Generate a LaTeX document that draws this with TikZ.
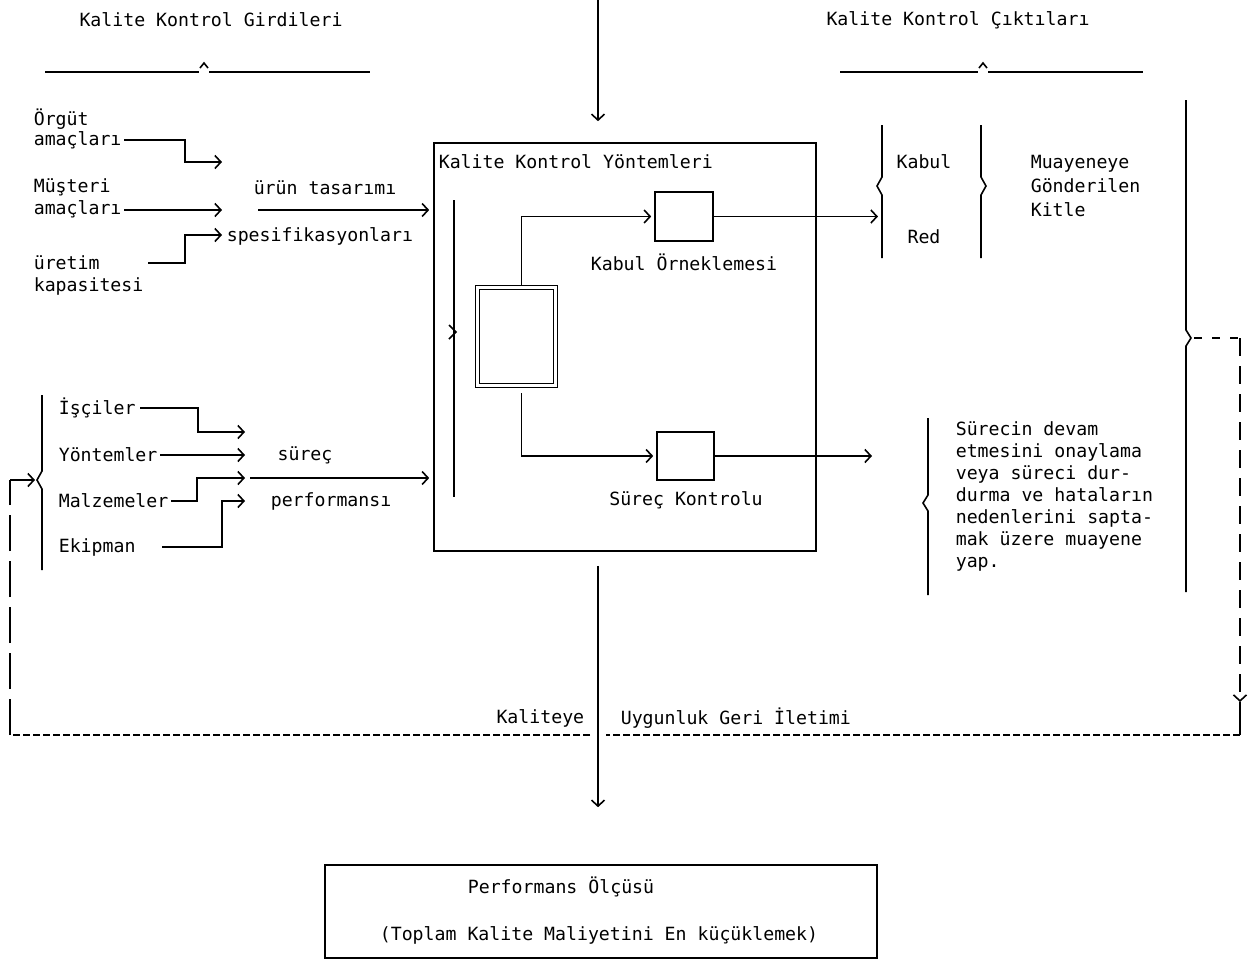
\documentclass[tikz,border=0pt]{standalone}
\usepackage{fontspec}
\usepackage{tikz}
\usetikzlibrary{positioning, arrows.meta, calc}
\newfontfamily\dotmono{DejaVu Sans Mono}

\begin{document}
\begin{tikzpicture}[x=0.5pt, y=-0.5pt, line width=0.8pt,
    txt/.style={inner sep=0pt, font=\dotmono\fontsize{9.1}{11}\selectfont},
    chev/.style={-{Straight Barb[length=3pt, width=6.5pt]}},
    box/.style={draw, inner sep=0pt},
    feedline/.style={dash pattern=on 3.5pt off 1.5pt},
    longdash/.style={dash pattern=on 9pt off 5pt}]
    \useasboundingbox (0,0) rectangle (1250,960);

    % Titles
    \node[txt] (inTitle) at (211,20) {Kalite Kontrol Girdileri};
    \node[txt] (outTitle) at (958,20) {Kalite Kontrol Çıktıları};
    \draw (45,72) -- (199,72) (209,72) -- (370,72);
    \draw (200,68) -- (204,63) -- (208,68);
    \draw (840,72) -- (978,72) (988,72) -- (1143,72);
    \draw (979,68) -- (983,63) -- (987,68);

    % Quality control methods
    \node[box, minimum width=191pt, minimum height=204pt] (kkBox) at (625,347) {};
    \node[txt, anchor=west] (kkTitle) at (438,162) {Kalite Kontrol Yöntemleri};
    \coordinate (topIn) at (598,0);
    \draw[chev] (topIn) -- ([yshift=10.5pt]kkBox.north -| topIn);

    \node[box, double, line width=0.7pt, double distance=1.2pt,
          minimum width=39pt, minimum height=49pt] (lot) at (516.5,336.5) {};
    \node[box, minimum width=29pt, minimum height=24.5pt] (kabulBox) at (684,216.5) {};
    \node[txt] (kabulLbl) at (684,262) {Kabul Örneklemesi};
    \node[box, minimum width=28.5pt, minimum height=24pt] (surecBox) at (685.5,456) {};
    \node[txt] (surecLbl) at (686,500) {Süreç Kontrolu};
    \draw[chev, shorten >=1.5pt] ([xshift=2.5pt, yshift=1pt]lot.north) |- (kabulBox.west);
    \draw[chev, shorten >=1.5pt] ([xshift=2.5pt, yshift=-3.5pt]lot.south) |- (surecBox.west);

    \coordinate (inTop) at (454,200);
    \coordinate (inBot) at (454,497);
    \draw (inTop) -- (inBot);
    \draw (449,325) -- (456,332) -- (449,339);

    % Inputs: product design
    \node[txt, anchor=west] (orgut) at (33,119) {Örgüt};
    \node[txt, anchor=west] (orgutAm) at (33,140) {amaçları};
    \node[txt, anchor=west] (musteri) at (33,187) {Müşteri};
    \node[txt, anchor=west] (musteriAm) at (33,209) {amaçları};
    \node[txt, anchor=west] (uretim) at (33,263) {üretim};
    \node[txt, anchor=west] (kapasite) at (33,286) {kapasitesi};
    \node[txt] (design) at (325,188) {ürün tasarımı};
    \node[txt, anchor=west] (spec) at (226,236) {spesifikasyonları};
    \coordinate (desIn1) at (222,162);
    \coordinate (desIn2) at (222,210);
    \coordinate (desIn3) at (222,235);
    \draw[chev] ([xshift=1pt]orgutAm.east) -| (185,162) -- (desIn1);
    \draw[chev] ([xshift=1pt]musteriAm.east |- desIn2) -- (desIn2);
    \draw[chev] ([xshift=24pt]uretim.east) -| (185,235) -- (desIn3);
    \coordinate (desOut) at (258,210);
    \draw[chev, shorten >=2pt] (desOut) -- (desOut -| kkBox.west);

    % Inputs: process performance
    \node[txt, anchor=west] (isci) at (58,408) {İşçiler};
    \node[txt, anchor=west] (yontem) at (58,455) {Yöntemler};
    \node[txt, anchor=west] (malzeme) at (58,501) {Malzemeler};
    \node[txt, anchor=west] (ekipman) at (58,547) {Ekipman};
    \node[txt] (surec) at (305,455) {süreç};
    \node[txt, anchor=west] (perf) at (270,501) {performansı};
    \coordinate (prIn1) at (245,432);
    \coordinate (prIn2) at (245,455);
    \coordinate (prIn3) at (245,478);
    \coordinate (prIn4) at (245,501);
    \draw[chev] ([xshift=2pt]isci.east) -| (198,432) -- (prIn1);
    \draw[chev] ([xshift=1pt]yontem.east |- prIn2) -- (prIn2);
    \draw[chev] ([xshift=1pt]malzeme.east) -| (197,478) -- (prIn3);
    \draw[chev] ([xshift=13pt]ekipman.east) -| (222,501) -- (prIn4);
    \coordinate (prOut) at (250,478);
    \draw[chev, shorten >=2pt] (prOut) -- (prOut -| kkBox.west);
    \draw (42,395) -- (42,471) -- (37,480) -- (42,489) -- (42,570);

    % Outputs
    \coordinate (accIn) at (878,216.5);
    \draw[chev] (kabulBox.east) -- (accIn);
    \draw (882,125) -- (882,177) -- (877,186) -- (882,195) -- (882,258);
    \draw (981,125) -- (981,177) -- (986,186) -- (981,195) -- (981,258);
    \node[txt] (kabul) at (924,162) {Kabul};
    \node[txt] (red) at (924,237) {Red};
    \node[txt, anchor=west, align=left, font=\dotmono\fontsize{9.1}{12}\selectfont]
        (lotTxt) at (1030,186) {Muayeneye\\Gönderilen\\Kitle};

    \coordinate (contIn) at (872,456);
    \draw[chev] (surecBox.east) -- (contIn);
    \draw (928,418) -- (928,495) -- (923,503) -- (928,511) -- (928,595);
    \node[txt, anchor=west, align=left] (contTxt) at (955,496)
        {Sürecin devam\\etmesini onaylama\\veya süreci dur-\\durma ve hataların\\nedenlerini sapta-\\mak üzere muayene\\yap.};
    \draw (1186,100) -- (1186,330) -- (1191,338) -- (1186,346) -- (1186,592);

    % Feedback loop
    \coordinate (fbA) at (1194,338);
    \coordinate (fbB) at (1240,338);
    \coordinate (fbTip) at (1240,702);
    \coordinate (fbC) at (1240,735);
    \coordinate (fbD) at (10,735);
    \coordinate (fbE) at (10,480);
    \coordinate (wkIn) at (35,480);
    \draw[dash pattern=on 4pt off 5pt] (fbA) -- (fbB);
    \draw[longdash, chev] (fbB) -- (fbTip);
    \draw (fbTip) -- (fbC);
    \draw[feedline] (fbC) -- (606,735);
    \draw[feedline] (590,735) -- (fbD);
    \draw[dash pattern=on 18pt off 5pt] (fbD) -- (fbE);
    \draw[chev] (fbE) -- (wkIn);
    \node[txt, anchor=east] (fbLblL) at (585,718) {Kaliteye};
    \node[txt, anchor=west] (fbLblR) at (620,718) {Uygunluk Geri İletimi};

    % Performance measure
    \node[box, minimum width=276pt, minimum height=46.5pt] (perfBox) at (601,911.5) {};
    \node[txt] (perfTitle) at (561,887) {Performans Ölçüsü};
    \node[txt] (perfGoal) at (599,935) {(Toplam Kalite Maliyetini En küçüklemek)};
    \draw[chev] ([yshift=-7pt]kkBox.south -| topIn) -- ([yshift=28.5pt]perfBox.north -| topIn);
\end{tikzpicture}
\end{document}
